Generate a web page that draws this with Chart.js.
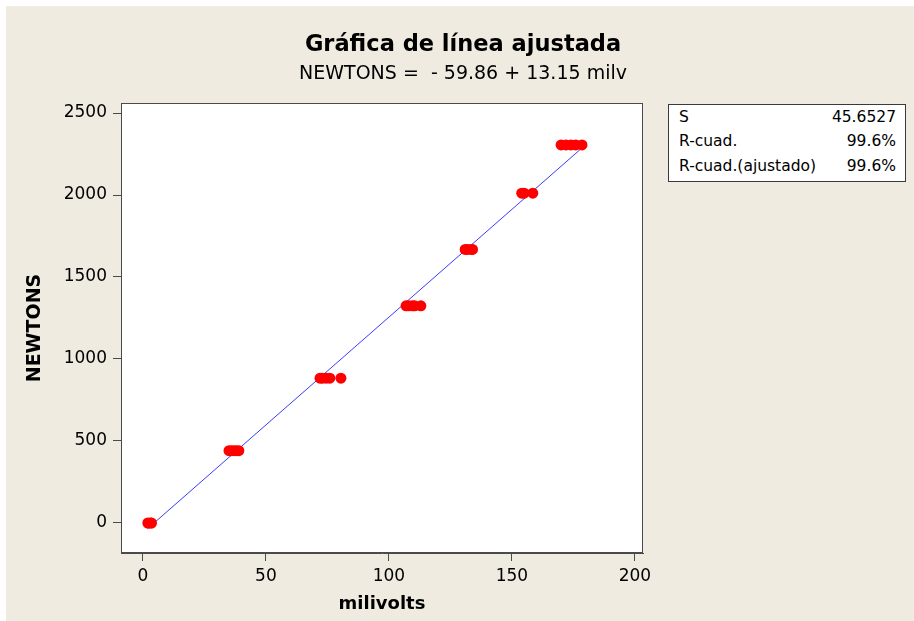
<!DOCTYPE html>
<html>
<head>
<meta charset="utf-8">
<script src="https://cdn.jsdelivr.net/npm/chart.js@4/dist/chart.umd.min.js"></script>
<style>
  html, body { margin: 0; padding: 0; background: #ffffff; }
  #wrap { position: absolute; left: 0; top: 0; width: 914px; height: 621px; }
  #c { position: absolute; left: 0; top: 0; }
  .txt { position: absolute; font-family: "DejaVu Sans", sans-serif; color: #000; white-space: pre; }
  #title { left: 6px; width: 914px; top: 30px; text-align: center; font-weight: bold; font-size: 22.5px; }
  #subtitle { left: 6px; width: 914px; top: 61px; text-align: center; font-size: 19px; }
  #stats { position: absolute; left: 668px; top: 104px; width: 236px; height: 76px; border: 1px solid #3a3a3a; background: #fff;
           font-family: "DejaVu Sans", sans-serif; font-size: 15.5px; color: #000; }
  #stats .row { position: absolute; left: 10px; right: 9px; height: 20px; }
  #stats .row span.l { position: absolute; left: 0; }
  #stats .row span.r { position: absolute; right: 0; }
</style>
</head>
<body>
<div id="wrap">
  <canvas id="c" width="914" height="621"></canvas>
  <div class="txt" id="title">Gráfica de línea ajustada</div>
  <div class="txt" id="subtitle">NEWTONS =  - 59.86 + 13.15 milv</div>
  <div id="stats">
    <div class="row" style="top:3px"><span class="l">S</span><span class="r">45.6527</span></div>
    <div class="row" style="top:27px"><span class="l">R-cuad.</span><span class="r">99.6%</span></div>
    <div class="row" style="top:52px"><span class="l">R-cuad.(ajustado)</span><span class="r">99.6%</span></div>
  </div>
</div>
<script>
// ---- data ----
const milivolts = [2, 3, 3.5,
                   35, 36, 37, 38, 39,
                   72, 73, 74.5, 76, 80.5,
                   107, 108, 109.5, 110.5, 113,
                   131, 132, 133.5, 134,
                   154, 155, 158.5,
                   170, 172, 174, 176, 178.5];
const newtons   = [0, 0, 0,
                   441, 441, 441, 441, 441,
                   883, 883, 883, 883, 883,
                   1324, 1324, 1324, 1324, 1324,
                   1668, 1668, 1668, 1668,
                   2011, 2011, 2011,
                   2305, 2305, 2305, 2305, 2305];
// fitted line endpoints
const fitX = [1.8, 178.5];
const fitY = [-36, 2287];
// tick labels
const xTicks = [0, 50, 100, 150, 200];
const yTicks = [0, 500, 1000, 1500, 2000, 2500];

const FONT = '"DejaVu Sans", sans-serif';
const AXIS = '#4a4a4a';

const bgPlugin = {
  id: 'bg',
  beforeDraw(chart) {
    const ctx = chart.ctx, a = chart.chartArea;
    ctx.save();
    ctx.fillStyle = '#ffffff';
    ctx.fillRect(0, 0, chart.width, chart.height);
    ctx.fillStyle = '#efebe1';
    ctx.fillRect(6, 6, chart.width - 6, chart.height - 6);
    ctx.fillStyle = '#ffffff';
    ctx.fillRect(a.left, a.top, a.right - a.left, a.bottom - a.top);
    ctx.restore();
  },
  afterDraw(chart) {
    const ctx = chart.ctx, a = chart.chartArea;
    ctx.save();
    ctx.strokeStyle = AXIS;
    ctx.lineWidth = 1;
    ctx.strokeRect(a.left + 0.5, a.top + 0.5, a.right - a.left - 1, a.bottom - a.top - 1);
    ctx.restore();
  }
};

new Chart(document.getElementById('c'), {
  type: 'scatter',
  data: {
    datasets: [
      {
        type: 'line',
        label: 'fit',
        data: fitX.map((x, i) => ({ x: x, y: fitY[i] })),
        borderColor: '#3b3bff',
        borderWidth: 1,
        pointRadius: 0,
        fill: false,
        order: 2
      },
      {
        label: 'NEWTONS',
        data: milivolts.map((x, i) => ({ x: x, y: newtons[i] })),
        backgroundColor: '#ff0000',
        borderColor: '#ff0000',
        borderWidth: 0,
        pointRadius: 5.5,
        order: 1
      }
    ]
  },
  options: {
    responsive: false,
    animation: false,
    events: [],
    layout: { padding: { left: 0, top: 103, right: 271, bottom: 0 } },
    plugins: { legend: { display: false }, tooltip: { enabled: false }, title: { display: false } },
    scales: {
      x: {
        type: 'linear',
        min: -8.9, max: 203.3,
        afterFit(s) { s.height = 68; },
        afterBuildTicks(s) { s.ticks = xTicks.map(v => ({ value: v })); },
        grid: { drawOnChartArea: false, drawTicks: true, tickLength: 8, color: AXIS },
        border: { display: true, color: AXIS },
        ticks: { color: '#000', padding: 5, font: { family: FONT, size: 17 }, maxRotation: 0, callback: v => String(v) },
        title: { display: true, text: 'milivolts', color: '#000', font: { family: FONT, size: 18, weight: 'bold' }, padding: { top: 0, bottom: 6 } }
      },
      y: {
        type: 'linear',
        min: -183, max: 2561,
        afterFit(s) { s.width = 121; },
        afterBuildTicks(s) { s.ticks = yTicks.map(v => ({ value: v })); },
        grid: { drawOnChartArea: false, drawTicks: true, tickLength: 8, color: AXIS },
        border: { display: true, color: AXIS },
        ticks: { color: '#000', padding: 6, font: { family: FONT, size: 17 }, callback: v => String(v) },
        title: { display: true, text: 'NEWTONS', color: '#000', font: { family: FONT, size: 19, weight: 'bold' }, padding: { top: 24, bottom: 0 } }
      }
    }
  },
  plugins: [bgPlugin]
});
</script>
</body>
</html>
